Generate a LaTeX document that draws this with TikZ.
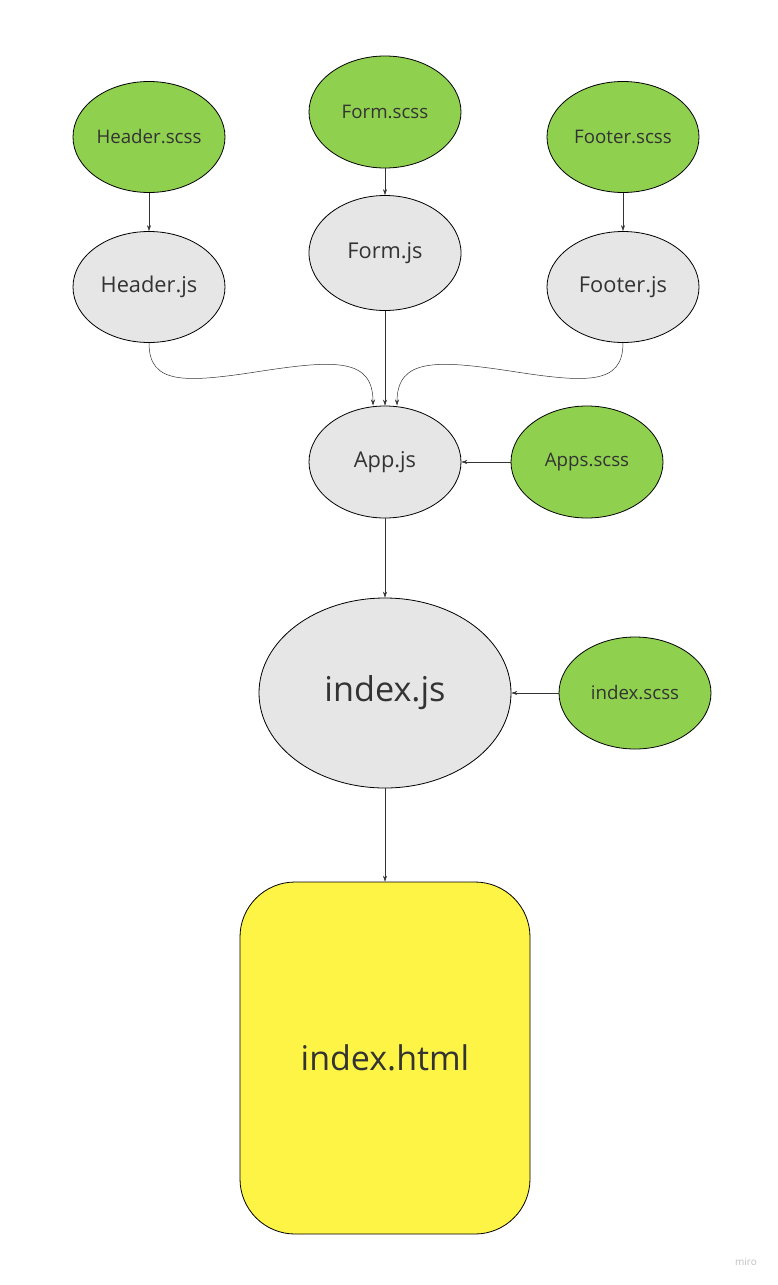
\documentclass[tikz,border=0pt]{standalone}
\usepackage{fontspec}
\setmainfont{Open Sans}
\usetikzlibrary{arrows.meta,shapes.geometric}
\definecolor{mgreen}{HTML}{8FD14F}
\definecolor{mgray}{HTML}{E6E6E6}
\definecolor{myellow}{HTML}{FEF445}
\definecolor{mtext}{HTML}{333333}
\begin{document}
\begin{tikzpicture}[x=1pt,y=-1pt,
  ell/.style={ellipse,draw=black,line width=0.8pt,inner sep=0pt,text=mtext},
  scss/.style={ell,fill=mgreen,minimum width=152pt,minimum height=111pt,font=\fontsize{18.7}{22}\selectfont},
  jsn/.style={ell,fill=mgray,minimum width=152pt,minimum height=111pt,font=\fontsize{21.8}{26}\selectfont},
  conn/.style={draw=black!80,line width=0.5pt,-{Stealth[length=6pt,width=4pt]}}]
\fill[white] (0,0) rectangle (778,1285);
\useasboundingbox (0,0) rectangle (778,1285);
\node[scss] (hs) at (149,137) {Header.scss};
\node[scss,minimum height=112pt] (fs) at (385,112) {Form.scss};
\node[scss] (fts) at (623,137) {Footer.scss};
\node[jsn] (hj) at (149,287) {Header.js};
\node[jsn,minimum height=115pt] (fj) at (385,253) {Form.js};
\node[jsn] (ftj) at (623,287) {Footer.js};
\node[jsn,minimum height=112pt] (app) at (385,462) {App.js};
\node[scss,minimum height=112pt] (aps) at (587,462) {Apps.scss};
\node[ell,fill=mgray,minimum width=252pt,minimum height=190pt,font=\fontsize{34.2}{40}\selectfont] (ij) at (385,693) {index.js};
\node[scss,minimum height=112pt] (is) at (635,693) {index.scss};
\node[draw=black,line width=0.8pt,fill=myellow,rounded corners=55pt,minimum width=290pt,minimum height=352pt,text=mtext,font=\fontsize{34}{40}\selectfont] (ih) at (385,1058) {index.html};
\node[text=black!25,font=\fontsize{10}{12}\selectfont] (miro) at (746,1262) {miro};
\draw[conn] (hs) -- (hj);
\draw[conn] (fs) -- (fj);
\draw[conn] (fts) -- (ftj);
\draw[conn] (fj) -- (app);
\draw[conn] (hj.south) .. controls (149,385) and (185,383) .. (262,371) .. controls (335,360) and (373,358) .. (373,405.5);
\draw[conn] (ftj.south) .. controls (623,385) and (587,383) .. (510,371) .. controls (437,360) and (397,358) .. (397,405.5);
\draw[conn] (aps) -- (app);
\draw[conn] (app) -- (ij);
\draw[conn] (is) -- (ij);
\draw[conn] (ij) -- (ih);
\end{tikzpicture}
\end{document}
